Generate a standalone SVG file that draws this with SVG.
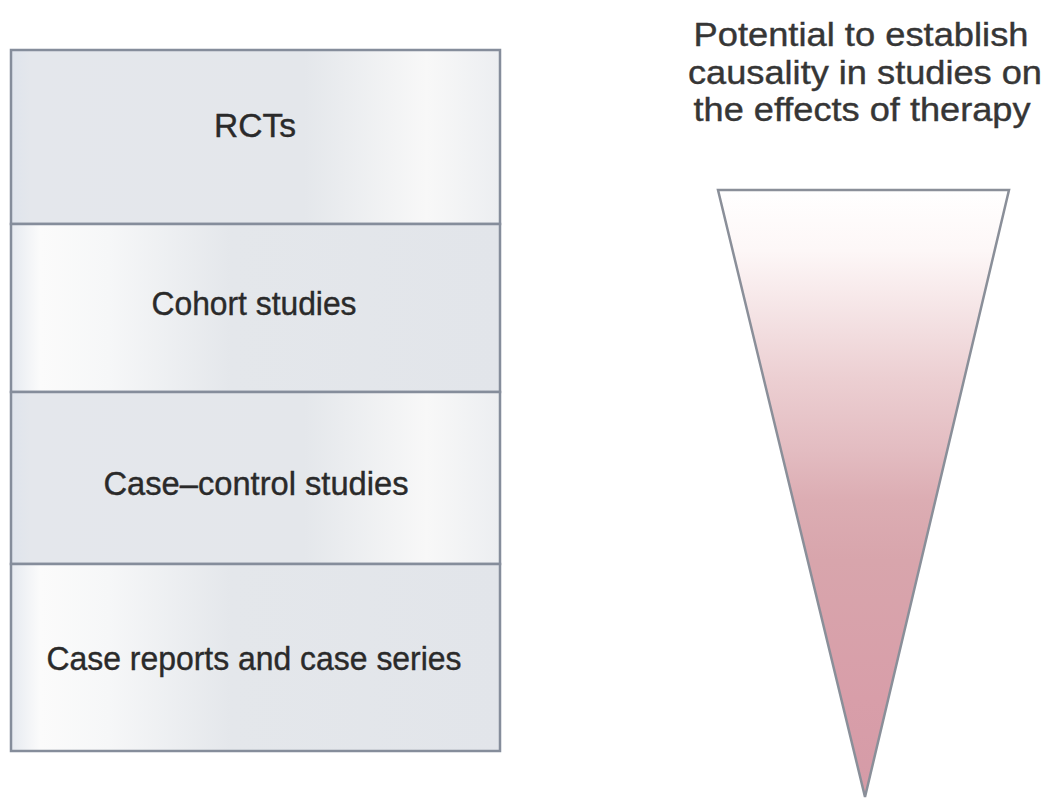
<svg xmlns="http://www.w3.org/2000/svg" width="1048" height="802" viewBox="0 0 1048 802">
<style>
.lbl{font-family:"Liberation Sans",Arial,Helvetica,sans-serif;font-size:34px;fill:#2a2a2a;stroke:#2a2a2a;stroke-width:0.4;text-anchor:middle}
.ttl{font-family:"Liberation Sans",Arial,Helvetica,sans-serif;font-size:33px;fill:#363636;stroke:#363636;stroke-width:0.4;text-anchor:middle}
.row{stroke:#858d9b;stroke-width:2.5}
</style>
<defs>
<linearGradient id="gA" x1="0" y1="0" x2="1" y2="0">
<stop offset="0" stop-color="#dfe4ec"/>
<stop offset="0.04" stop-color="#e4e7ec"/>
<stop offset="0.6" stop-color="#e4e7eb"/>
<stop offset="0.85" stop-color="#f8f8f8"/>
<stop offset="1" stop-color="#eceef1"/>
</linearGradient>
<linearGradient id="gB" x1="0" y1="0" x2="1" y2="0">
<stop offset="0" stop-color="#e6eaf0"/>
<stop offset="0.06" stop-color="#fbfbfb"/>
<stop offset="0.2" stop-color="#f6f7f8"/>
<stop offset="0.45" stop-color="#e4e7eb"/>
<stop offset="1" stop-color="#e2e5ea"/>
</linearGradient>
<linearGradient id="gT" gradientUnits="userSpaceOnUse" x1="0" y1="190" x2="0" y2="797">
<stop offset="0" stop-color="#ffffff"/>
<stop offset="0.1" stop-color="#fdf7f7"/>
<stop offset="0.31" stop-color="#eccfd2"/>
<stop offset="0.43" stop-color="#e3bcc1"/>
<stop offset="0.51" stop-color="#dcadb3"/>
<stop offset="0.61" stop-color="#d8a5ac"/>
<stop offset="0.84" stop-color="#d89ea9"/>
<stop offset="1" stop-color="#d59ba7"/>
</linearGradient>
</defs>
<rect width="1048" height="802" fill="#ffffff"/>
<g id="rcts">
<rect class="row" x="11" y="50" width="489" height="174" fill="url(#gA)"/>
<text class="lbl" x="255" y="137" textLength="82" lengthAdjust="spacingAndGlyphs">RCTs</text>
</g>
<g id="cohort">
<rect class="row" x="11" y="224" width="489" height="168" fill="url(#gB)"/>
<text class="lbl" x="254" y="315" textLength="205" lengthAdjust="spacingAndGlyphs">Cohort studies</text>
</g>
<g id="casecontrol">
<rect class="row" x="11" y="392" width="489" height="172" fill="url(#gA)"/>
<text class="lbl" x="256" y="495" textLength="305" lengthAdjust="spacingAndGlyphs">Case–control studies</text>
</g>
<g id="casereports">
<rect class="row" x="11" y="564" width="489" height="187" fill="url(#gB)"/>
<text class="lbl" x="254" y="670" textLength="415" lengthAdjust="spacingAndGlyphs">Case reports and case series</text>
</g>
<g id="title">
<text class="ttl" x="861" y="46" textLength="335" lengthAdjust="spacingAndGlyphs">Potential to establish</text>
<text class="ttl" x="865" y="84" textLength="354" lengthAdjust="spacingAndGlyphs">causality in studies on</text>
<text class="ttl" x="862" y="121" textLength="337" lengthAdjust="spacingAndGlyphs">the effects of therapy</text>
</g>
<g id="triangle">
<polygon points="718,190 1009,190 865,797" fill="url(#gT)" stroke="#8a8f99" stroke-width="2.5" stroke-linejoin="miter"/>
</g>
<g id="connectors"></g>
</svg>
